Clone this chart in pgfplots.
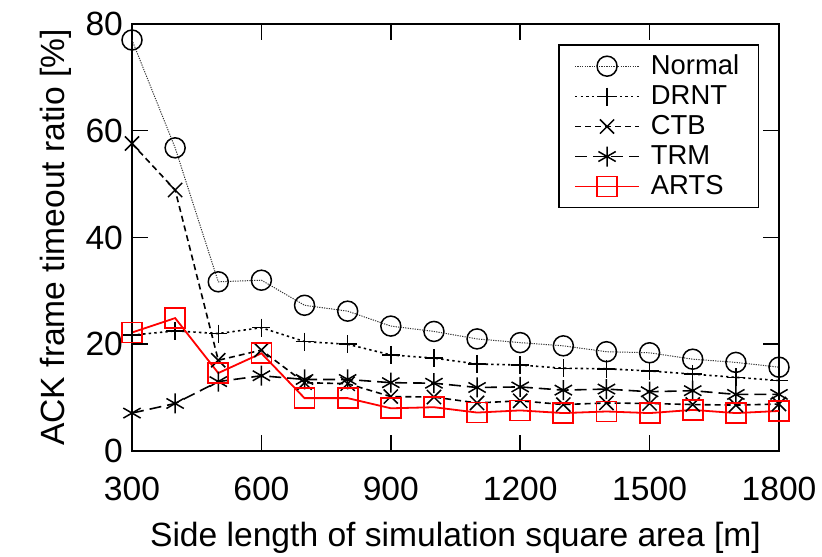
\documentclass[border=0pt]{standalone}
\usepackage{fontspec}
\setmainfont{Liberation Sans}
\usepackage{pgfplots}
\pgfplotsset{compat=1.18}
\usepackage{pgfplotstable}

% ACK frame timeout ratio [%] versus side length [m]
\pgfplotstableread{
x     normal drnt ctb  trm  arts
300   77.0   21.7 57.6 7.1  22.2
400   56.8   22.5 48.9 8.9  24.9
500   31.7   22.0 17.0 13.0 14.6
600   32.0   23.1 18.9 14.1 18.3
700   27.3   20.5 12.8 13.4 9.9
800   26.2   20.0 12.6 13.4 9.9
900   23.4   18.0 10.2 12.8 8.0
1000  22.4   17.4 10.1 12.7 8.2
1100  21.0   16.3 9.0  11.9 7.2
1200  20.3   16.1 9.4  12.0 7.6
1300  19.7   15.5 8.7  11.4 7.1
1400  18.6   15.4 9.0  11.6 7.4
1500  18.4   15.0 8.9  11.1 7.1
1600  17.2   14.4 8.7  11.3 7.7
1700  16.6   13.8 8.6  10.6 7.1
1800  15.7   13.2 8.8  10.6 7.5
}\ackdata

\begin{document}
\begin{tikzpicture}
\begin{axis}[
  scale only axis,
  width=323.5pt, height=213.5pt,
  xmin=300, xmax=1800, ymin=0, ymax=80,
  xtick={300,600,...,1800},
  ytick={0,20,...,80},
  tick align=inside,
  major tick length=8pt,
  axis line style={line width=0.75pt},
  every tick/.style={line width=0.75pt, black},
  /pgf/number format/assume math mode=true,
  /pgf/number format/1000 sep={},
  tick label style={font=\fontsize{16.8}{19}\selectfont},
  xticklabel style={yshift=-9.5pt},
  yticklabel style={xshift=-1pt},
  label style={font=\fontsize{16.8}{19}\selectfont},
  xlabel={Side length of simulation square area [m]},
  xlabel style={yshift=-4pt},
  ylabel={ACK frame timeout ratio [\%]},
  legend style={
    at={(1,1)}, anchor=north east, xshift=-10pt, yshift=-10pt,
    draw=black, line width=0.75pt,
    font=\fontsize{13.7}{15}\selectfont,
    row sep=0pt, column sep=3.5pt,
    inner xsep=7.5pt, inner ysep=3pt,
  },
  legend cell align=left,
  legend image code/.code={
    \draw[mark repeat=2, mark phase=2]
      plot coordinates {(0pt,0pt) (16pt,0pt) (32pt,0pt)};
  },
  every axis plot/.append style={mark size=5pt},
]
\addplot[black!80, line width=0.5pt, dash pattern=on 0.6pt off 0.6pt,
  mark=o, mark options={solid, black, line width=0.75pt}]
  table[x=x, y=normal] {\ackdata};
\addlegendentry{Normal}
\addplot[black, line width=0.8pt, dash pattern=on 1.2pt off 1.6pt,
  mark=+, mark size=4.5pt, mark options={solid, line width=0.75pt}]
  table[x=x, y=drnt] {\ackdata};
\addlegendentry{DRNT}
\addplot[black, line width=0.8pt, dash pattern=on 3pt off 2pt,
  mark=x, mark options={solid, line width=0.75pt}]
  table[x=x, y=ctb] {\ackdata};
\addlegendentry{CTB}
\addplot[black, line width=0.8pt, dash pattern=on 6pt off 3pt,
  mark=asterisk, mark options={solid, line width=0.75pt}]
  table[x=x, y=trm] {\ackdata};
\addlegendentry{TRM}
\addplot[red, line width=0.9pt,
  mark=square, mark options={solid, line width=0.9pt}]
  table[x=x, y=arts] {\ackdata};
\addlegendentry{ARTS}
\end{axis}
\pgfresetboundingbox
\path ([shift={(-66pt,-53pt)}]current axis.south west)
  rectangle ([shift={(21.5pt,12pt)}]current axis.north east);
\end{tikzpicture}
\end{document}
